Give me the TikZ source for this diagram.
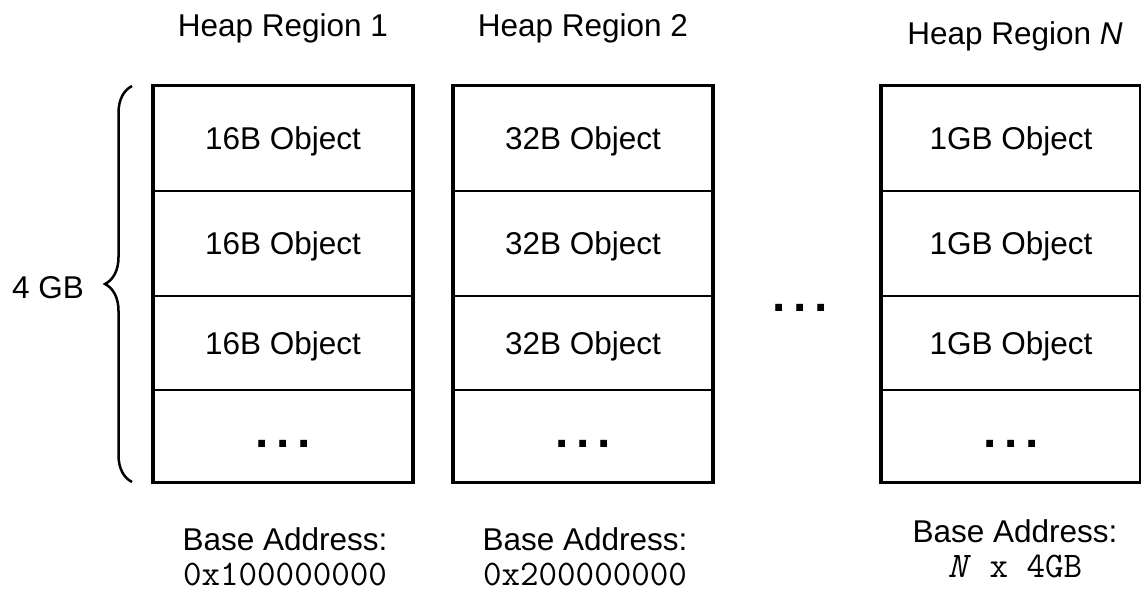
\documentclass[tikz,border=0pt]{standalone}
\usepackage{fontspec}
\setmainfont{Liberation Sans}
\usetikzlibrary{decorations.pathreplacing}

% three widely spaced bold periods
\newcommand\spreaddots{.\hspace{7.7pt}.\hspace{7.7pt}.}

\begin{document}
\begin{tikzpicture}[x=1pt,y=-1pt,
  every node/.style={inner sep=0pt, outer sep=0pt},
  txt/.style={font=\fontsize{31.5}{38}\selectfont, text height=22.5pt, text depth=0pt},
  mono/.style={font=\fontsize{36}{42}\selectfont\ttfamily, text height=22pt, text depth=0pt},
  cell/.style={draw, line width=2.8pt, minimum width=260pt, txt},
  dotsty/.style={font=\fontsize{48}{50}\selectfont\bfseries, text depth=0pt},
  side/.style={line width=4.8pt, line cap=rect},
  rim/.style={line width=3pt},
]
\clip (0,0) rectangle (1141,594);

% column cells: heights 105, 105, 94, 92
\foreach \c/\x/\t in {a/283/16B, b/583/32B, c/1011/1GB}{
  \node[cell, minimum height=105pt] (\c1) at (\x,138.5) {\t\ Object};
  \node[cell, minimum height=105pt] (\c2) at (\x,243.5) {\t\ Object};
  \node[cell, minimum height=94pt]  (\c3) at (\x,343)   {\t\ Object};
  \node[cell, minimum height=92pt]  (\c4) at (\x,436)   {};
  \node[dotsty] (\c d) at (\x,444) {\spreaddots};
  \draw[rim] (\c1.north west) -- (\c1.north east);
  \draw[rim] (\c4.south west) -- (\c4.south east);
  \draw[side] (\c1.north west) -- (\c4.south west);
  \draw[side] (\c1.north east) -- (\c4.south east);
}

% gap between region 2 and region N
\node[dotsty] (gap) at (800,308) {\spreaddots};

% column titles
\node[txt] (h1) at (283,25) {Heap Region 1};
\node[txt] (h2) at (583,25) {Heap Region 2};
\node[txt] (h3) at (1015,33) {Heap Region \textit{N}};

% base addresses
\node[txt]  (ba1) at (285,539) {Base Address:};
\node[mono] (ad1) at (285,574) {0x100000000};
\node[txt]  (ba2) at (585,539) {Base Address:};
\node[mono] (ad2) at (585,574) {0x200000000};
\node[txt]  (ba3) at (1015,531) {Base Address:};
\node[mono] (ad3) at (1015,566) {\textit{N} x 4GB};

% size brace
\coordinate (bb) at (132,482);
\coordinate (bt) at (132,86);
\draw[line width=2.5pt, decorate, decoration={brace, amplitude=27pt}] (bb) -- (bt);
\node[txt] (size) at (48,287) {4 GB};
\end{tikzpicture}
\end{document}
